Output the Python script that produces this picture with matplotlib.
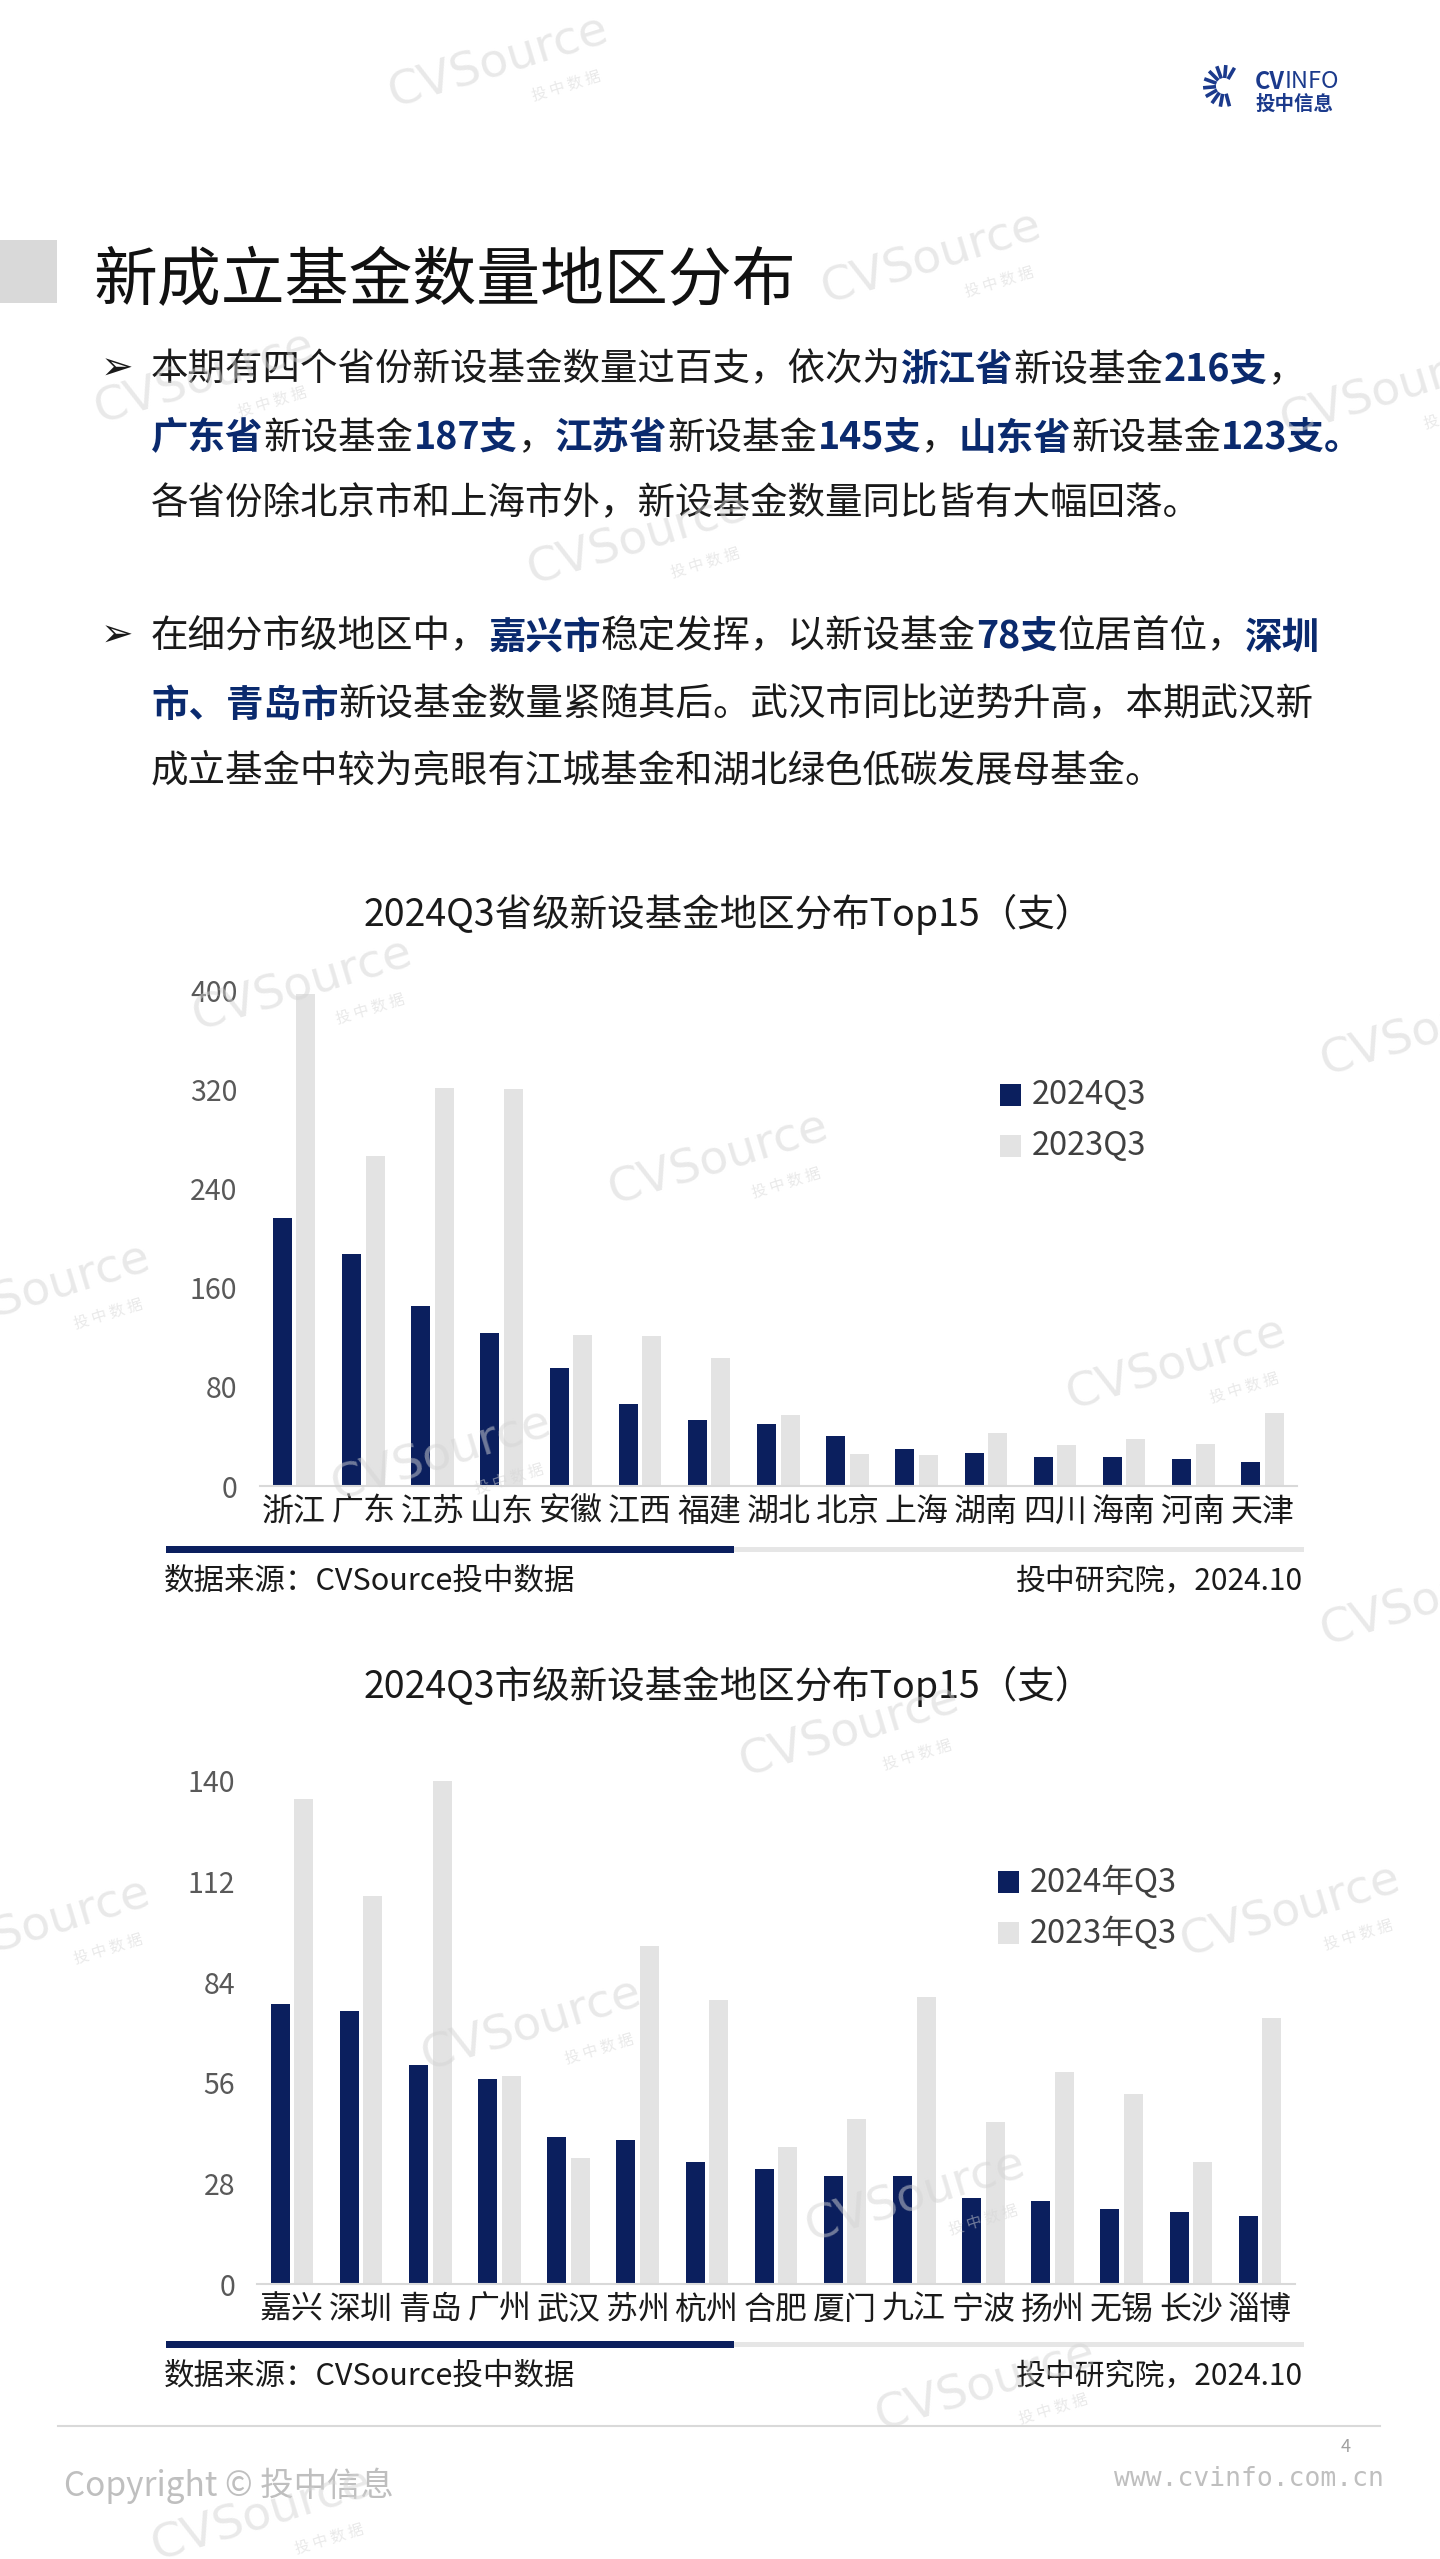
import matplotlib
matplotlib.use('Agg')
import matplotlib.pyplot as plt
from matplotlib.patches import Rectangle
import numpy as np

plt.rcParams['font.family'] = ['Noto Sans CJK SC', 'DejaVu Sans']

W, H = 1440, 2559
NAVY = '#0b1f5e'
LIGHT = '#e3e3e3'
BOLD_BLUE = '#0a2a6e'
INK = '#1a1a1a'

# province level, 2024Q3 vs 2023Q3
prov = ['浙江', '广东', '江苏', '山东', '安徽', '江西', '福建', '湖北', '北京', '上海',
        '湖南', '四川', '海南', '河南', '天津']
prov_2024 = [216, 187, 145, 123, 95, 66, 53, 50, 40, 30, 27, 23, 23, 22, 19]
prov_2023 = [397, 266, 321, 320, 122, 121, 103, 57, 26, 25, 43, 33, 38, 34, 59]
prov_ticks = [0, 80, 160, 240, 320, 400]

# city level
city = ['嘉兴', '深圳', '青岛', '广州', '武汉', '苏州', '杭州', '合肥', '厦门', '九江',
        '宁波', '扬州', '无锡', '长沙', '淄博']
city_2024 = [78, 76, 61, 57, 41, 40, 34, 32, 30, 30, 24, 23, 21, 20, 19]
city_2023 = [135, 108, 140, 58, 35, 94, 79, 38, 46, 80, 45, 59, 53, 34, 74]
city_ticks = [0, 28, 56, 84, 112, 140]

fig = plt.figure(figsize=(W / 100, H / 100), dpi=100)
fig.patch.set_facecolor('white')

# background layer in pixel coords (y down)
bg = fig.add_axes([0, 0, 1, 1])
bg.set_xlim(0, W)
bg.set_ylim(H, 0)
bg.axis('off')

r = fig.canvas.get_renderer()


def rich(x, y, segs, size=27):
    for s, bold in segs:
        t = bg.text(x, y, s, fontsize=size, va='center',
                    color=BOLD_BLUE if bold else INK,
                    fontweight='bold' if bold else 'normal')
        x += t.get_window_extent(renderer=r).width


# header
bg.add_patch(Rectangle((0, 240), 57, 63, color='#d9d9d9', lw=0))
bg.text(93, 282, '新成立基金数量地区分布', fontsize=46, va='center', color='#111111')

# logo
cx, cy = 1224, 86
for a in np.radians(np.arange(60, 310, 25)):
    bg.plot([cx + 8 * np.cos(a), cx + 21 * np.cos(a)],
            [cy - 8 * np.sin(a), cy - 21 * np.sin(a)], color='#1b3a8c', lw=2.6,
            solid_capstyle='butt')
bg.text(1255, 82, 'CV', fontsize=17, va='center', color='#1b3a8c', fontweight='bold')
bg.text(1285, 82, 'INFO', fontsize=17, va='center', color='#1b3a8c')
bg.text(1255, 104, '投中信息', fontsize=14, va='center', color='#1b3a8c', fontweight='bold')

# bullets
for yb in (369, 636):
    bg.text(117, yb, '➢', fontsize=28, va='center', ha='center', color=INK,
            family=['DejaVu Sans'])

rich(151, 370, [('本期有四个省份新设基金数量过百支，依次为', False), ('浙江省', True),
                ('新设基金', False), ('216支', True), ('，', False)])
rich(151, 438, [('广东省', True), ('新设基金', False), ('187支', True), ('，', False),
                ('江苏省', True), ('新设基金', False), ('145支', True), ('，', False),
                ('山东省', True), ('新设基金', False), ('123支。', True)])
rich(151, 504, [('各省份除北京市和上海市外，新设基金数量同比皆有大幅回落。', False)])
rich(151, 637, [('在细分市级地区中，', False), ('嘉兴市', True), ('稳定发挥，以新设基金', False),
                ('78支', True), ('位居首位，', False), ('深圳', True)])
rich(151, 705, [('市、青岛市', True), ('新设基金数量紧随其后。武汉市同比逆势升高，本期武汉新', False)])
rich(151, 771, [('成立基金中较为亮眼有江城基金和湖北绿色低碳发展母基金。', False)])


def ax_rect(x0, x1, ytop, ybot):
    return [x0 / W, 1 - ybot / H, (x1 - x0) / W, (ybot - ytop) / H]


def bar_chart(rect, cats, s1, s2, ticks, title, title_y, names, leg_x, leg_y, foot_y):
    ax = fig.add_axes(ax_rect(*rect))
    x = np.arange(len(cats))
    ax.bar(x - 0.17, s1, 0.275, color=NAVY, zorder=2)
    ax.bar(x + 0.17, s2, 0.275, color=LIGHT, zorder=2)
    ax.set_xlim(-0.5, len(cats) - 0.5)
    ax.set_ylim(0, ticks[-1])
    ax.set_yticks(ticks)
    ax.set_xticks(x)
    ax.set_xticklabels(cats)
    for s in ('top', 'right', 'left'):
        ax.spines[s].set_visible(False)
    ax.spines['bottom'].set_color('#d9d9d9')
    ax.spines['bottom'].set_linewidth(1.5)
    ax.tick_params(axis='y', length=0, labelsize=20.5, labelcolor='#595959', pad=16)
    ax.tick_params(axis='x', length=0, labelsize=23, labelcolor=INK, pad=7)
    ax.patch.set_alpha(0)

    bg.text(728, title_y, title, fontsize=27, ha='center', va='center', color=INK)
    for k, (nm, col) in enumerate(zip(names, (NAVY, LIGHT))):
        yy = leg_y + k * 51
        bg.add_patch(Rectangle((leg_x, yy - 11), 21, 22, color=col, lw=0))
        bg.text(leg_x + 32, yy, nm, fontsize=23.5, va='center', color='#404040')

    bg.add_patch(Rectangle((166, foot_y - 3.5), 568, 7, color=NAVY, lw=0))
    bg.add_patch(Rectangle((734, foot_y - 2.5), 570, 5, color='#e6e6e6', lw=0))
    bg.text(164, foot_y + 32, '数据来源：CVSource投中数据', fontsize=22, va='center', color=INK)
    bg.text(1303, foot_y + 32, '投中研究院，2024.10', fontsize=21.5, va='center', ha='right', color=INK)
    return ax


bar_chart((259.6, 1297, 990, 1486), prov, prov_2024, prov_2023, prov_ticks,
          '2024Q3省级新设基金地区分布Top15（支）', 914, ['2024Q3', '2023Q3'], 1000, 1095, 1549)
bar_chart((257.4, 1294.6, 1781, 2284), city, city_2024, city_2023, city_ticks,
          '2024Q3市级新设基金地区分布Top15（支）', 1686, ['2024年Q3', '2023年Q3'], 998, 1882, 2344)

# footer
bg.plot([58, 1380], [2426, 2426], color='#d9d9d9', lw=1.5)
bg.text(1346, 2447, '4', fontsize=13, ha='center', va='center', color='#a0a0a0')
bg.text(64, 2486, 'Copyright © 投中信息', fontsize=24, va='center', color='#bfbfbf')
bg.text(1384, 2479, 'www.cvinfo.com.cn', fontsize=19, va='center', ha='right',
        color='#bfbfbf', family=['DejaVu Sans Mono'])

# watermarks on top
wm = fig.add_axes([0, 0, 1, 1])
wm.set_xlim(0, W)
wm.set_ylim(H, 0)
wm.axis('off')
wm.patch.set_alpha(0)
marks = [(498, 62), (931, 258), (204, 378), (1390, 390), (637, 539), (302, 985),
         (718, 1159), (40, 1290), (1176, 1364), (1430, 1030), (441, 1455), (1430, 1600),
         (849, 1731), (40, 1925), (1290, 1911), (531, 2025), (915, 2196), (985, 2385),
         (261, 2515)]
for mx, my in marks:
    wm.text(mx, my, 'CVSource', fontsize=34, rotation=17, ha='center', va='center',
            color='#d4d4d4', alpha=0.5, family=['DejaVu Sans'], clip_on=True)
    wm.text(mx + 68, my + 24, '投 中 数 据', fontsize=11, rotation=17, ha='center',
            va='center', color='#d4d4d4', alpha=0.5, clip_on=True)

fig.savefig('out.png', dpi=100, facecolor='white')
